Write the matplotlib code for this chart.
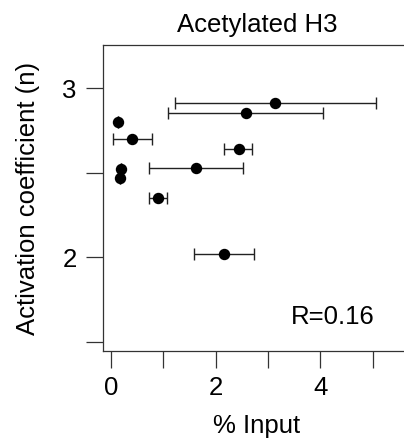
import matplotlib
matplotlib.use("Agg")
import matplotlib.pyplot as plt

# % input (mean) with error bar ends, activation coefficient n
pct_input = [3.14, 2.57, 0.13, 0.41, 2.44, 0.20, 1.62, 0.17, 0.90, 2.15]
err_low = [1.22, 1.09, 0.13, 0.03, 2.16, 0.20, 0.73, 0.17, 0.73, 1.58]
err_high = [5.06, 4.05, 0.13, 0.78, 2.70, 0.20, 2.52, 0.17, 1.06, 2.73]
act_coef = [2.91, 2.85, 2.80, 2.70, 2.64, 2.52, 2.53, 2.47, 2.35, 2.02]

x_ticks = [0, 1, 2, 3, 4, 5]
x_labels = ["0", "", "2", "", "4", ""]
y_ticks = [1.5, 2, 2.5, 3]
y_labels = ["", "2", "", "3"]

plt.rcParams["font.family"] = ["Liberation Sans", "DejaVu Sans"]
FS = 18.5

W, H = 404, 443
fig = plt.figure(figsize=(W / 100, H / 100), dpi=100)
ax = fig.add_axes([103 / W, 1 - 351 / H, (411 - 103) / W, (351 - 45) / H])

xerr = [[m - lo for m, lo in zip(pct_input, err_low)],
        [hi - m for m, hi in zip(pct_input, err_high)]]
ax.errorbar(pct_input, act_coef, xerr=xerr, fmt="none", ecolor="#222222",
            elinewidth=1.0, capsize=4, capthick=1.0)
ax.plot(pct_input, act_coef, "o", color="black", markersize=7.2, zorder=3)

ax.set_xlim(-0.153, 5.73)
ax.set_ylim(1.447, 3.254)
ax.set_xticks(x_ticks)
ax.set_xticklabels(x_labels)
ax.set_yticks(y_ticks)
ax.set_yticklabels(y_labels)
ax.tick_params(axis="both", length=12, width=0.9, color="#333333",
               labelsize=FS)
ax.tick_params(axis="x", pad=6)
ax.tick_params(axis="y", pad=7)

for spine in ax.spines.values():
    spine.set_color("#333333")
    spine.set_linewidth(0.9)

ax.text(5.04, 1.645, "R=0.16", ha="right", va="center", fontsize=FS)
ax.set_title("Acetylated H3", fontsize=FS, pad=9.4)
ax.set_xlabel("% Input", fontsize=FS, labelpad=10)
ax.set_ylabel("Activation coefficient (n)", fontsize=FS, labelpad=16)

fig.savefig("out.png", dpi=100)
